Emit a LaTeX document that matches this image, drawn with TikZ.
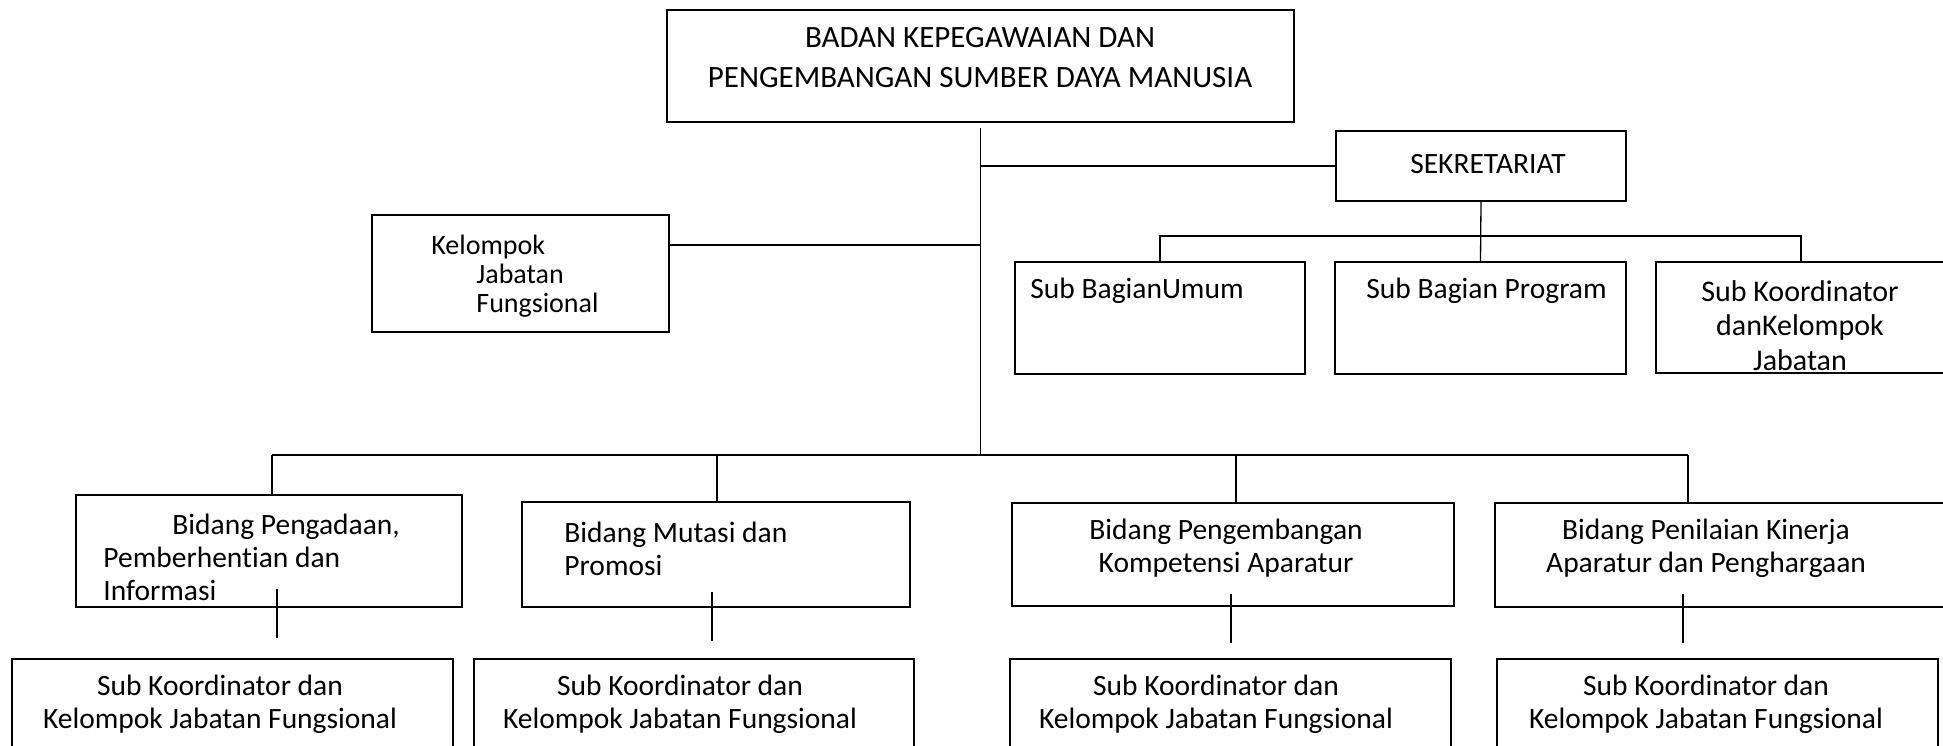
\documentclass[tikz,border=0pt]{standalone}
\usepackage{fontspec}
\setmainfont{Carlito}[Ligatures=NoCommon]
\begin{document}
\begin{tikzpicture}[x=0.5pt,y=-0.5pt,
    box/.style 2 args={draw,line width=1.1pt,inner sep=0pt,minimum width=#1*0.5pt,minimum height=#2*0.5pt},
    lbl/.style={inner sep=0pt,font=\fontsize{14.75pt}{16.5pt}\selectfont},
    link/.style={line width=0.65pt}]
  \useasboundingbox (0,0) rectangle (1943,745);
  \clip (0,0) rectangle (1943,745);
  \node[box={627}{112}] (bkpsdm) at (980.5,66) {};
  \node[box={290}{70}] (sekre) at (1481,166) {};
  \node[box={297}{117}] (kjf) at (520.5,273.5) {};
  \node[box={290}{112}] (subum) at (1160,318) {};
  \node[box={291}{112}] (subprog) at (1480.5,318) {};
  \node[box={290}{111}] (subkoor) at (1801,317.5) {};
  \node[box={386}{112}] (bid1) at (269,551) {};
  \node[box={388}{105}] (bid2) at (716,554.5) {};
  \node[box={442}{103}] (bid3) at (1233,554.5) {};
  \node[box={465}{104}] (bid4) at (1727.5,555) {};
  \node[box={441}{112}] (koor1) at (232.5,715) {};
  \node[box={440}{112}] (koor2) at (694,715) {};
  \node[box={441}{112}] (koor3) at (1230.5,715) {};
  \node[box={441}{112}] (koor4) at (1717.5,715) {};

  \node[lbl,font=\fontsize{15.5pt}{20pt}\selectfont,align=center] (bkpsdm-t) at (980,58)
    {BADAN KEPEGAWAIAN DAN\\PENGEMBANGAN SUMBER DAYA MANUSIA};
  \node[lbl] (sekre-t) at (1488,164) {SEKRETARIAT};
  \node[lbl,font=\fontsize{14pt}{14.5pt}\selectfont,align=left,anchor=west] (kjf-t) at (431,276)
    {Kelompok\\\hspace*{22.5pt}Jabatan\\\hspace*{22.5pt}Fungsional};
  \node[lbl,anchor=west] (subum-t) at (1030,291) {Sub BagianUmum};
  \node[lbl,anchor=west] (subprog-t) at (1366,291) {Sub Bagian Program};
  \node[lbl,font=\fontsize{15pt}{17.25pt}\selectfont,align=center] (subkoor-t) at (1800,325.5)
    {Sub Koordinator\\danKelompok\\Jabatan};
  \node[lbl,align=left,anchor=west] (bid1-t) at (103,557.5)
    {\hspace*{34.5pt}Bidang Pengadaan,\\Pemberhentian dan\\Informasi};
  \node[lbl,align=left,anchor=west] (bid2-t) at (564,548.5) {Bidang Mutasi dan\\Promosi};
  \node[lbl,align=center] (bid3-t) at (1226,548.5) {Bidang Pengembangan\\Kompetensi Aparatur};
  \node[lbl,align=center] (bid4-t) at (1706,548.5) {Bidang Penilaian Kinerja\\Aparatur dan Penghargaan};
  \foreach \k/\x in {1/220,2/680,3/1216,4/1706}
    \node[lbl,align=center] (koor\k-t) at (\x,704) {Sub Koordinator dan\\Kelompok Jabatan Fungsional};

  \coordinate (busl) at (272,455);
  \coordinate (busr) at (1688,455);
  \draw[link] ([yshift=-2.5pt]bkpsdm.south) -- (bkpsdm.south |- busl);
  \draw[link] (sekre.west) -- (sekre.west -| bkpsdm.south);
  \coordinate (kjfx) at ([shift={(0,31)}]kjf.north east);
  \draw[link] (kjfx) -- (kjfx -| bkpsdm.south);
  \draw[link] (sekre.south) -- (subprog.north);
  \draw[link] (subum.north) -- ++(0,-25) -| (subkoor.north);
  \draw[link] (busl) -- (busr);
  \foreach \b/\x in {bid1/272,bid2/717,bid3/1236,bid4/1688}
    \draw[link] (\x,455) coordinate (d) -- (d |- \b.north);
  \foreach \b/\dx/\dy in {bid1/8/-19,bid2/-4/-16,bid3/-2/-13,bid4/-44.5/-14}
    \draw[link] ([shift={(\dx,\dy)}]\b.south) -- ++(0,49);
\end{tikzpicture}
\end{document}
